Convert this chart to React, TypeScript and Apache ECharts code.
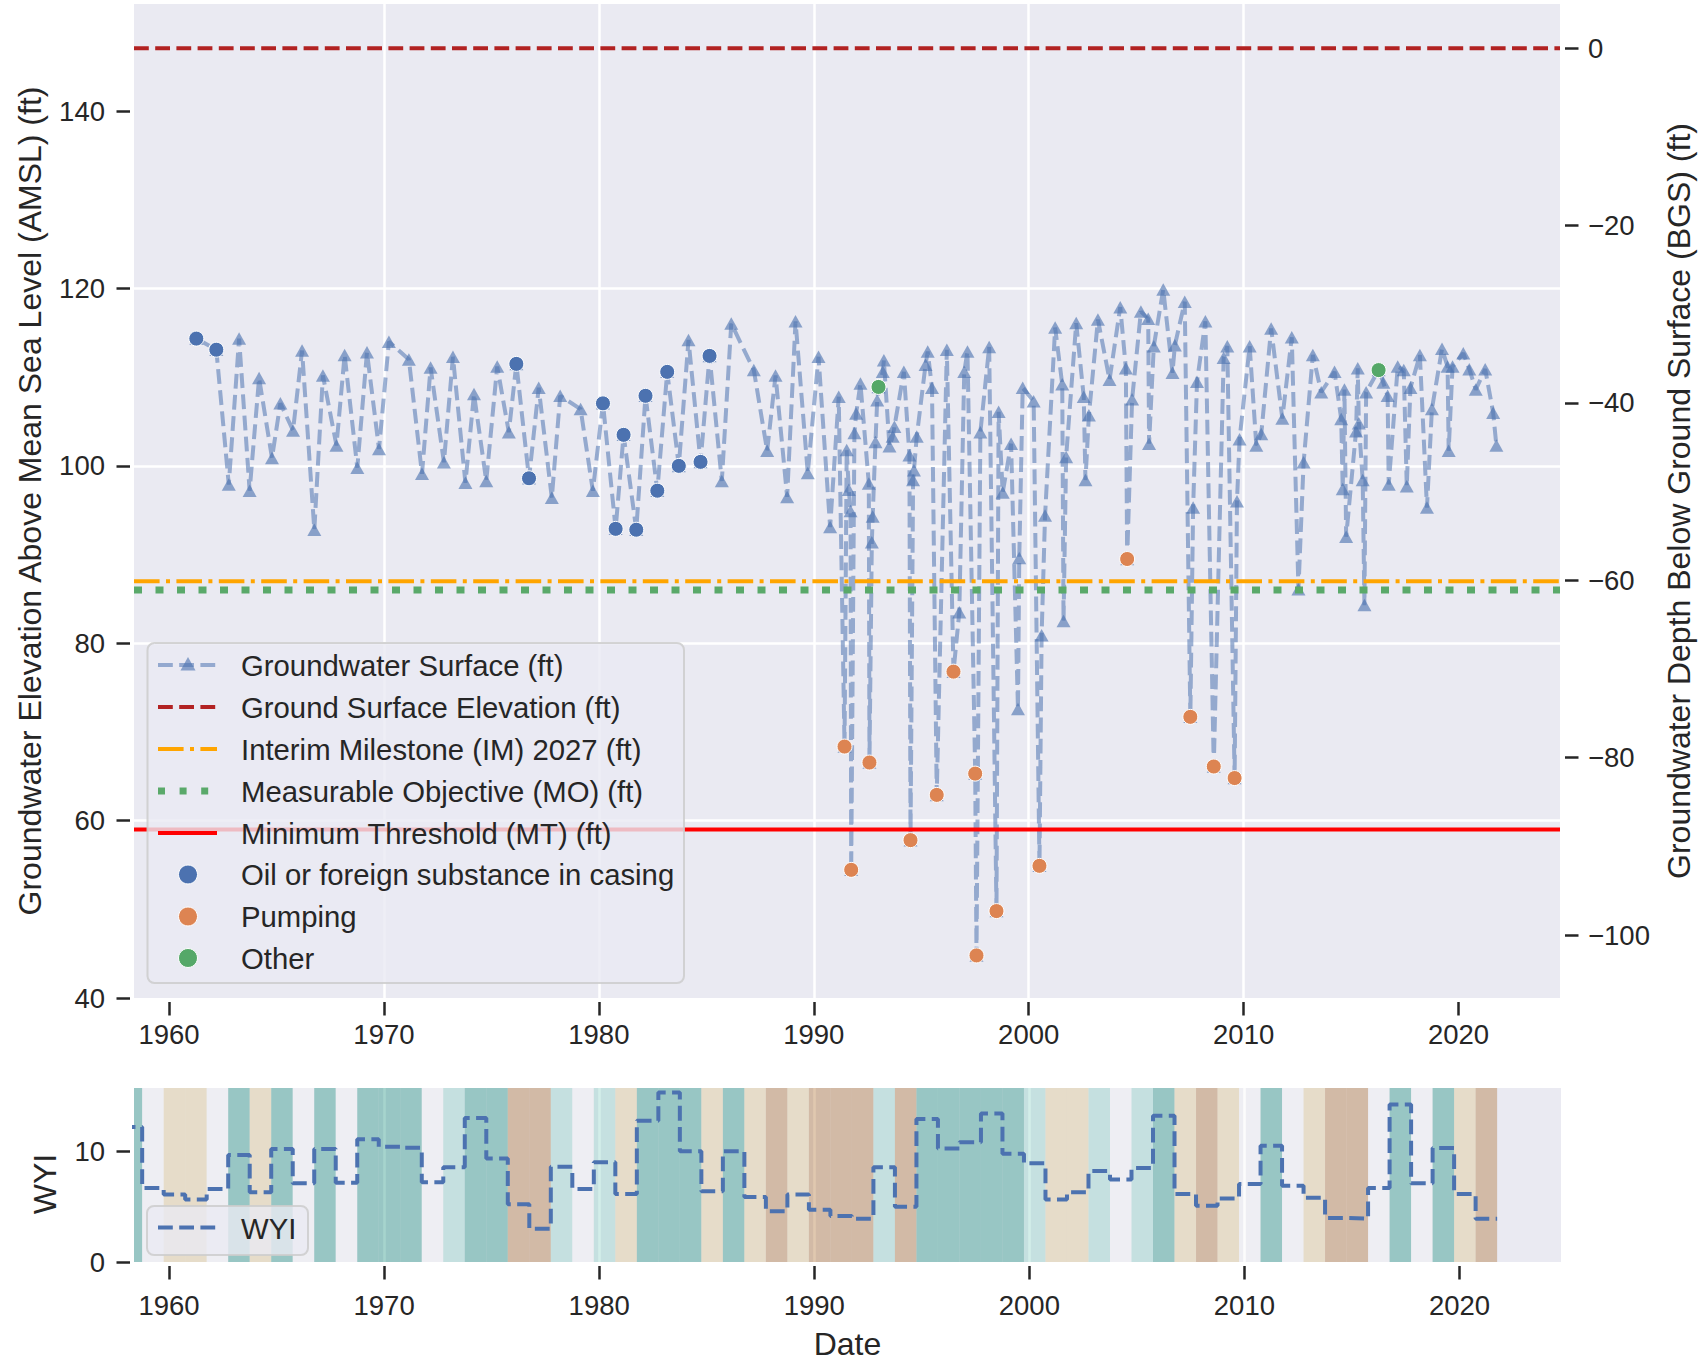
import React, { useEffect, useRef } from 'react';
import * as echarts from 'echarts';

// ---------------- DATA ----------------
const gwDates = [
  1961.27, 1962.2, 1962.78, 1963.26, 1963.75, 1964.19, 1964.79, 1965.18, 1965.77, 1966.19,
  1966.76, 1967.16, 1967.79, 1968.17, 1968.76, 1969.21, 1969.77, 1970.23, 1971.16, 1971.77,
  1972.17, 1972.79, 1973.21, 1973.79, 1974.19, 1974.76, 1975.27, 1975.81, 1976.16, 1976.75,
  1977.2, 1977.81, 1978.2, 1979.15, 1979.72, 1980.19, 1980.78, 1981.15, 1981.74, 1982.17,
  1982.72, 1983.18, 1983.72, 1984.17, 1984.73, 1985.15, 1985.72, 1986.16, 1987.21, 1987.83,
  1988.22, 1988.76, 1989.15, 1989.72, 1990.22, 1990.76, 1991.16, 1991.43, 1991.53, 1991.63,
  1991.71, 1991.74, 1991.89, 1991.97, 1992.17, 1992.56, 1992.59, 1992.7, 1992.74, 1992.87,
  1992.95, 1993.01, 1993.21, 1993.26, 1993.52, 1993.67, 1993.75, 1994.19, 1994.45, 1994.5,
  1994.62, 1994.66, 1994.79, 1995.2, 1995.3, 1995.5, 1995.72, 1996.19, 1996.5, 1996.77,
  1997.0, 1997.15, 1997.51, 1997.57, 1997.75, 1998.16, 1998.5, 1998.6, 1998.79, 1999.18,
  1999.5, 1999.56, 1999.72, 2000.23, 2000.5, 2000.6, 2000.76, 2001.23, 2001.56, 2001.62,
  2001.74, 2002.21, 2002.56, 2002.64, 2002.8, 2003.22, 2003.76, 2004.26, 2004.52, 2004.58,
  2004.81, 2005.22, 2005.56, 2005.6, 2005.82, 2006.26, 2006.69, 2006.8, 2007.26, 2007.52,
  2007.65, 2007.83, 2008.22, 2008.61, 2009.07, 2009.24, 2009.58, 2009.69, 2009.81, 2010.28,
  2010.59, 2010.82, 2011.28, 2011.8, 2012.24, 2012.55, 2012.79, 2013.22, 2013.61, 2014.23,
  2014.54, 2014.61, 2014.69, 2014.77, 2015.23, 2015.31, 2015.36, 2015.54, 2015.62, 2015.7,
  2016.28, 2016.5, 2016.7, 2016.75, 2017.17, 2017.45, 2017.59, 2017.76, 2018.2, 2018.53,
  2018.76, 2019.23, 2019.49, 2019.54, 2019.72, 2020.22, 2020.5, 2020.8, 2021.24, 2021.61,
  2021.76,
];
const gwValues = [
  114.35, 113.1, 97.9, 114.35, 97.2, 109.9, 100.9, 107.05, 104.0, 113.0,
  92.8, 110.2, 102.3, 112.5, 99.8, 112.8, 101.9, 114.0, 112.0, 99.1,
  111.1, 100.4, 112.3, 98.1, 108.1, 98.3, 111.2, 103.8, 111.5, 98.6,
  108.8, 96.4, 107.9, 106.4, 97.2, 107.05, 92.9, 103.5, 92.8, 107.9,
  97.2, 110.6, 100.0, 114.2, 100.45, 112.4, 98.3, 116.05, 110.8, 101.7,
  110.2, 96.5, 116.3, 99.2, 112.3, 93.1, 107.8, 68.35, 101.8, 97.3,
  94.9, 54.45, 103.7, 105.9, 109.3, 98.0, 66.55, 91.4, 94.3, 102.7,
  107.4, 108.9, 110.6, 111.9, 102.2, 103.3, 104.4, 110.6, 101.2, 57.8,
  98.4, 99.5, 103.3, 111.4, 112.9, 108.8, 62.9, 113.1, 76.8, 83.5,
  110.6, 112.9, 65.3, 44.8, 103.8, 113.4, 49.8, 106.1, 97.0, 102.5,
  72.6, 89.6, 108.8, 107.3, 54.9, 80.9, 94.4, 115.6, 109.2, 82.5,
  101.0, 116.1, 107.8, 98.4, 105.7, 116.5, 109.7, 117.9, 111.0, 89.5,
  107.5, 117.4, 116.6, 102.5, 113.5, 119.9, 110.5, 113.6, 118.5, 71.7,
  95.3, 109.5, 116.3, 66.1, 112.2, 113.5, 64.8, 96.0, 103.0, 113.5,
  102.3, 103.6, 115.5, 105.35, 114.5, 86.1, 100.4, 112.5, 108.3, 110.6,
  105.3, 97.4, 108.6, 92.0, 103.9, 111.0, 104.8, 98.4, 84.3, 108.3,
  110.8, 109.4, 107.9, 97.9, 111.2, 110.8, 97.7, 108.8, 112.5, 95.3,
  106.4, 113.2, 111.2, 101.7, 111.2, 112.7, 110.9, 108.6, 110.9, 106.0,
  102.3,
];

const oilDates = [1961.27, 1962.2, 1976.16, 1976.75, 1980.19, 1980.78, 1981.15, 1981.74, 1982.17, 1982.72, 1983.18, 1983.72, 1984.73, 1985.15];
const oilValues = [114.35, 113.1, 111.5, 98.6, 107.05, 92.9, 103.5, 92.8, 107.9, 97.2, 110.6, 100.0, 100.45, 112.4];

const pumpDates = [1991.43, 1991.74, 1992.59, 1994.5, 1995.72, 1996.5, 1997.51, 1997.57, 1998.5, 2000.5, 2004.58, 2007.52, 2008.61, 2009.58];
const pumpValues = [68.35, 54.45, 66.55, 57.8, 62.9, 76.8, 65.3, 44.8, 49.8, 54.9, 89.5, 71.7, 66.1, 64.8];

const otherDates = [1993.01, 2016.28];
const otherValues = [108.9, 110.8];

const groundSurfaceElevation = 147.1;
const interimMilestone = 87.0;
const measurableObjective = 86.0;
const minimumThreshold = 59.0;

const waterYears = [
  1958, 1959, 1960, 1961, 1962, 1963, 1964, 1965, 1966, 1967, 1968, 1969, 1970, 1971, 1972, 1973,
  1974, 1975, 1976, 1977, 1978, 1979, 1980, 1981, 1982, 1983, 1984, 1985, 1986, 1987, 1988, 1989,
  1990, 1991, 1992, 1993, 1994, 1995, 1996, 1997, 1998, 1999, 2000, 2001, 2002, 2003, 2004, 2005,
  2006, 2007, 2008, 2009, 2010, 2011, 2012, 2013, 2014, 2015, 2016, 2017, 2018, 2019, 2020, 2021,
];
const wyiValues = [
  12.17, 6.67, 6.09, 5.65, 6.58, 9.65, 6.29, 10.2, 7.1, 10.2, 7.16, 11.07, 10.4, 10.3, 7.19, 8.55,
  12.99, 9.33, 5.22, 2.99, 8.6, 6.58, 8.99, 6.14, 12.75, 15.3, 10.0, 6.38, 10.0, 5.86, 4.58, 6.09,
  4.72, 4.14, 3.9, 8.55, 4.99, 12.9, 10.23, 10.81, 13.39, 9.77, 8.9, 5.65, 6.29, 8.2, 7.45, 8.49,
  13.19, 6.14, 5.07, 5.74, 7.04, 10.49, 6.87, 5.8, 3.97, 3.91, 6.67, 14.2, 7.1, 10.29, 6.14, 3.91,
];
const wyTypes = [
  'W', 'BN', 'D', 'D', 'BN', 'W', 'D', 'W', 'BN', 'W', 'BN', 'W', 'W', 'W', 'BN', 'AN',
  'W', 'W', 'C', 'C', 'AN', 'BN', 'AN', 'D', 'W', 'W', 'W', 'D', 'W', 'D', 'C', 'D',
  'C', 'C', 'C', 'AN', 'C', 'W', 'W', 'W', 'W', 'W', 'AN', 'D', 'D', 'AN', 'BN', 'AN',
  'W', 'D', 'C', 'D', 'BN', 'W', 'BN', 'D', 'C', 'C', 'BN', 'W', 'BN', 'W', 'D', 'C',
];

const yearTicks = [1960, 1970, 1980, 1990, 2000, 2010, 2020];
const elevTicks = [40, 60, 80, 100, 120, 140];
const depthTicks = [0, -20, -40, -60, -80, -100];
const wyiTicks = [0, 10];

// ---------------- STYLE ----------------
const FONT = "'Liberation Sans', Arial, Helvetica, sans-serif";
const TXT = '#262626';
const BG = '#EAEAF2';
const X_MIN = 1958.37;
const X_MAX = 2024.72;
const Y_MIN = 40;
const Y_MAX = 152.08;
const WYI_MAX = 15.7;
const TICK_FS = 27.5;
const NAME_FS = 32;
const LEG_FS = 29.3;

const typeColors: Record<string, string> = {
  W: 'rgba(1,133,113,0.35)',
  AN: 'rgba(128,205,193,0.35)',
  BN: 'rgba(245,245,245,0.35)',
  D: 'rgba(223,194,125,0.35)',
  C: 'rgba(166,97,26,0.35)',
};

const GW_LINE = 'rgba(76,114,176,0.55)';
const GW_MARK = 'rgba(76,114,176,0.62)';
const DASH = [14.8, 6.4];
const DASHDOT = [25.6, 6.4, 4, 6.4];
const DOT = [8, 13.5];

function fmt(list: number[], minus = false) {
  return (v: number) => {
    const hit = list.some((t) => Math.abs(t - v) < 1e-6);
    if (!hit) return '';
    if (minus && v < 0) return '\u2212' + Math.abs(v);
    return String(Math.round(v));
  };
}

function buildOption() {
  const pair = (xs: number[], ys: number[]) => xs.map((x, i) => [x, ys[i]]);
  const hline = (v: number) => [[X_MIN, v], [X_MAX, v]];

  const wyiStep = waterYears.map((y, i) => [y - 0.25, wyiValues[i]]);
  wyiStep.push([waterYears[waterYears.length - 1] + 0.75, wyiValues[wyiValues.length - 1]]);

  const bands = waterYears.map((y, i) => ({
    value: [y - 0.25, y + 0.75],
    itemStyle: { color: typeColors[wyTypes[i]] },
  }));

  const labelStyle = { fontFamily: FONT, fontSize: TICK_FS, color: TXT };
  const tickStyle = { color: TXT, width: 2.5 };
  const nameStyle = { fontFamily: FONT, fontSize: NAME_FS, color: TXT };

  const xAxisBase = (gridIndex: number, margin: number, extra: any = {}) => ({
    type: 'value',
    gridIndex,
    position: 'bottom',
    min: X_MIN,
    max: X_MAX,
    splitNumber: 7,
    offset: 4,
    axisLine: { show: false, onZero: false },
    axisTick: { show: true, length: 13.5, lineStyle: tickStyle, customValues: yearTicks },
    axisLabel: { ...labelStyle, margin, customValues: yearTicks, formatter: fmt(yearTicks) },
    splitLine: { show: true, showMinLine: false, showMaxLine: false, lineStyle: { color: '#ffffff', width: 2.5 } },
    ...extra,
  });

  // legend (drawn as graphic)
  const LX0 = 158;
  const LX1 = 217;
  const LCX = 188;
  const TX = 241;
  const rows = [665, 707, 749, 791, 833, 874.5, 916.5, 958];
  const legendTexts = [
    'Groundwater Surface (ft)',
    'Ground Surface Elevation (ft)',
    'Interim Milestone (IM) 2027 (ft)',
    'Measurable Objective (MO) (ft)',
    'Minimum Threshold (MT) (ft)',
    'Oil or foreign substance in casing',
    'Pumping',
    'Other',
  ];
  const g: any[] = [];
  g.push({
    type: 'rect', z: 100,
    shape: { x: 147.5, y: 643, width: 536.5, height: 340, r: 7 },
    style: { fill: 'rgba(234,234,242,0.8)', stroke: 'rgba(204,204,204,0.85)', lineWidth: 2 },
  });
  const hl = (y: number, stroke: string, lineWidth: number, lineDash: any) => ({
    type: 'line', z: 101,
    shape: { x1: LX0, y1: y, x2: LX1, y2: y },
    style: { stroke, lineWidth, lineDash, lineCap: 'butt' },
  });
  g.push(hl(rows[0], GW_LINE, 4, DASH));
  g.push({
    type: 'polygon', z: 102,
    shape: { points: [[LCX, rows[0] - 8], [LCX - 7.5, rows[0] + 5.5], [LCX + 7.5, rows[0] + 5.5]] },
    style: { fill: GW_MARK },
  });
  g.push(hl(rows[1], '#b22222', 4, DASH));
  g.push(hl(rows[2], '#ffa500', 4, DASHDOT));
  g.push(hl(rows[3], '#5aa96a', 7, [7, 14.6]));
  g.push(hl(rows[4], '#ff0000', 4, null));
  const circ = (y: number, fill: string) => ({
    type: 'circle', z: 101,
    shape: { cx: LCX, cy: y, r: 9.5 },
    style: { fill, stroke: '#ffffff', lineWidth: 1 },
  });
  g.push(circ(rows[5], '#4c72b0'));
  g.push(circ(rows[6], '#dd8452'));
  g.push(circ(rows[7], '#55a868'));
  legendTexts.forEach((t, i) => {
    g.push({
      type: 'text', z: 103, x: TX, y: rows[i],
      style: { text: t, fontFamily: FONT, fontSize: LEG_FS, fill: TXT, verticalAlign: 'middle', align: 'left' },
    });
  });
  // WYI legend
  g.push({
    type: 'rect', z: 100,
    shape: { x: 147, y: 1206, width: 161, height: 49, r: 7 },
    style: { fill: 'rgba(234,234,242,0.8)', stroke: 'rgba(204,204,204,0.85)', lineWidth: 2 },
  });
  g.push({
    type: 'line', z: 101,
    shape: { x1: LX0, y1: 1227.5, x2: LX1, y2: 1227.5 },
    style: { stroke: '#4c72b0', lineWidth: 4, lineDash: DASH, lineCap: 'butt' },
  });
  g.push({
    type: 'text', z: 103, x: TX, y: 1228.5,
    style: { text: 'WYI', fontFamily: FONT, fontSize: LEG_FS, fill: TXT, verticalAlign: 'middle', align: 'left' },
  });

  return {
    animation: false,
    backgroundColor: '#ffffff',
    textStyle: { fontFamily: FONT },
    grid: [
      { left: 134, right: 142, top: 4, height: 994, show: true, backgroundColor: BG, borderWidth: 0 },
      { left: 134, right: 142, top: 1088, height: 184, show: true, backgroundColor: BG, borderWidth: 0 },
    ],
    xAxis: [
      xAxisBase(0, 18.5),
      xAxisBase(1, 25, {
        name: 'Date',
        nameLocation: 'middle',
        nameGap: 62,
        nameTextStyle: nameStyle,
      }),
    ],
    yAxis: [
      {
        type: 'value', gridIndex: 0, position: 'left', min: Y_MIN, max: Y_MAX, splitNumber: 5, offset: 4,
        name: 'Groundwater Elevation Above Mean Sea Level (AMSL) (ft)',
        nameLocation: 'middle', nameRotate: 90, nameGap: 84, nameTextStyle: nameStyle,
        axisLine: { show: false, onZero: false },
        axisTick: { show: true, length: 13.5, lineStyle: tickStyle, customValues: elevTicks },
        axisLabel: { ...labelStyle, margin: 25, customValues: elevTicks, formatter: fmt(elevTicks) },
        splitLine: { show: true, showMinLine: false, showMaxLine: false, lineStyle: { color: '#ffffff', width: 2.5 } },
      },
      {
        type: 'value', gridIndex: 0, position: 'right', min: Y_MIN - groundSurfaceElevation, max: Y_MAX - groundSurfaceElevation,
        splitNumber: 5, offset: 5,
        name: 'Groundwater Depth Below Ground Surface (BGS) (ft)',
        nameLocation: 'middle', nameRotate: 90, nameGap: 98, nameTextStyle: nameStyle,
        axisLine: { show: false, onZero: false },
        axisTick: { show: true, length: 13.5, lineStyle: tickStyle, customValues: depthTicks },
        axisLabel: { ...labelStyle, margin: 23, customValues: depthTicks, formatter: fmt(depthTicks, true) },
        splitLine: { show: false },
      },
      {
        type: 'value', gridIndex: 1, position: 'left', min: 0, max: WYI_MAX, splitNumber: 2, offset: 4,
        name: 'WYI', nameLocation: 'middle', nameRotate: 90, nameGap: 69,
        nameTextStyle: { ...nameStyle, padding: [0, 18, 0, 0] },
        axisLine: { show: false, onZero: false },
        axisTick: { show: true, length: 13.5, lineStyle: tickStyle, customValues: wyiTicks },
        axisLabel: { ...labelStyle, margin: 25, customValues: wyiTicks, formatter: fmt(wyiTicks) },
        splitLine: { show: true, showMinLine: false, showMaxLine: false, lineStyle: { color: '#ffffff', width: 2.5 } },
      },
    ],
    series: [
      {
        type: 'custom', name: 'Water year type', xAxisIndex: 1, yAxisIndex: 2, z: 1, silent: true,
        data: bands,
        encode: { x: [0, 1] },
        renderItem: (params: any, api: any) => {
          const s = api.value(0);
          const e = api.value(1);
          const a = api.coord([s, 0]);
          const b = api.coord([e, 0]);
          const cs = params.coordSys;
          const r = echarts.graphic.clipRectByRect(
            { x: a[0], y: cs.y, width: b[0] - a[0], height: cs.height },
            { x: cs.x, y: cs.y, width: cs.width, height: cs.height }
          );
          if (!r) return null;
          return { type: 'rect', shape: r, style: { fill: api.visual('color') } };
        },
      },
      {
        type: 'line', name: 'WYI', xAxisIndex: 1, yAxisIndex: 2, z: 3, step: 'end',
        data: wyiStep, showSymbol: false, symbol: 'none',
        lineStyle: { color: '#4c72b0', width: 4, type: DASH },
        clip: true,
      },
      {
        type: 'line', name: 'Groundwater Surface (ft)', xAxisIndex: 0, yAxisIndex: 0, z: 2,
        data: pair(gwDates, gwValues),
        symbol: 'triangle', symbolSize: [14, 12.5], showSymbol: true, showAllSymbol: true,
        lineStyle: { color: GW_LINE, width: 4, type: DASH },
        itemStyle: { color: GW_MARK, borderWidth: 0 },
      },
      {
        type: 'line', name: 'Ground Surface Elevation (ft)', xAxisIndex: 0, yAxisIndex: 0, z: 3,
        data: hline(groundSurfaceElevation), symbol: 'none',
        lineStyle: { color: '#b22222', width: 4, type: DASH },
      },
      {
        type: 'line', name: 'Interim Milestone (IM) 2027 (ft)', xAxisIndex: 0, yAxisIndex: 0, z: 3,
        data: hline(interimMilestone), symbol: 'none',
        lineStyle: { color: '#ffa500', width: 4, type: DASHDOT },
      },
      {
        type: 'line', name: 'Measurable Objective (MO) (ft)', xAxisIndex: 0, yAxisIndex: 0, z: 3,
        data: hline(measurableObjective), symbol: 'none',
        lineStyle: { color: '#5aa96a', width: 7, type: DOT, cap: 'butt' },
      },
      {
        type: 'line', name: 'Minimum Threshold (MT) (ft)', xAxisIndex: 0, yAxisIndex: 0, z: 3,
        data: hline(minimumThreshold), symbol: 'none',
        lineStyle: { color: '#ff0000', width: 4 },
      },
      {
        type: 'scatter', name: 'Oil or foreign substance in casing', xAxisIndex: 0, yAxisIndex: 0, z: 5,
        data: pair(oilDates, oilValues), symbolSize: 15,
        itemStyle: { color: '#4c72b0', borderColor: '#ffffff', borderWidth: 1, opacity: 1 },
      },
      {
        type: 'scatter', name: 'Pumping', xAxisIndex: 0, yAxisIndex: 0, z: 5,
        data: pair(pumpDates, pumpValues), symbolSize: 15,
        itemStyle: { color: '#dd8452', borderColor: '#ffffff', borderWidth: 1, opacity: 1 },
      },
      {
        type: 'scatter', name: 'Other', xAxisIndex: 0, yAxisIndex: 0, z: 5,
        data: pair(otherDates, otherValues), symbolSize: 15,
        itemStyle: { color: '#55a868', borderColor: '#ffffff', borderWidth: 1, opacity: 1 },
      },
    ],
    graphic: g,
  };
}

export default function App() {
  const ref = useRef<HTMLDivElement>(null);
  useEffect(() => {
    document.body.style.margin = '0';
    if (!ref.current) return;
    const chart = echarts.init(ref.current, undefined, { renderer: 'svg' });
    chart.setOption(buildOption() as any);
    return () => chart.dispose();
  }, []);
  return <div ref={ref} style={{ width: 1703, height: 1361 }} />;
}
